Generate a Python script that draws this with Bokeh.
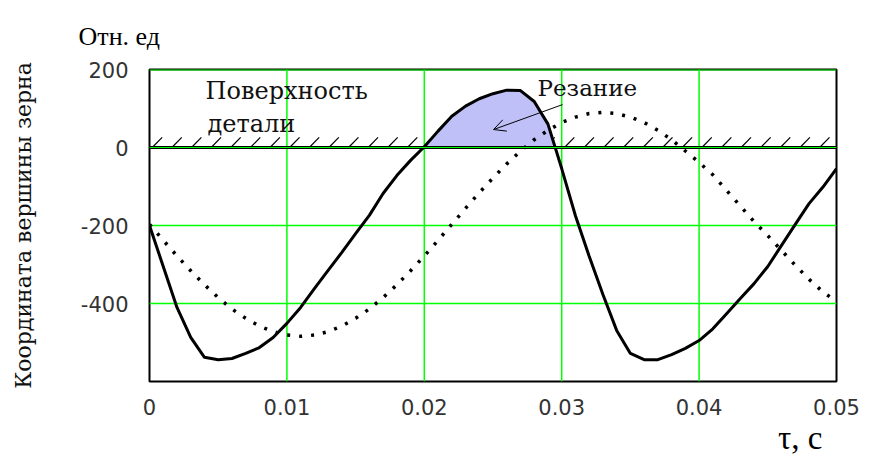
import numpy as np
from bokeh.plotting import figure
from bokeh.models import Label, Arrow, OpenHead, CustomJSTickFormatter, Span, Range1d, Title
from bokeh.embed import file_html
from bokeh.resources import INLINE

# ---- data ----
TAU = [round(i * 0.001, 3) for i in range(51)]
SOLID = [-200, -305, -410, -487, -538, -544, -541, -528, -513, -487,
         -451, -410, -362, -315, -269, -221, -174, -118, -72, -33,
         2, 42, 80, 106, 125, 138, 147, 146, 118, 60,
         -54, -175, -279, -377, -469, -528, -544, -544, -531, -515,
         -495, -465, -426, -387, -349, -305, -251, -197, -144, -102,
         -54]
DOTTED = [-197, -238, -278, -316, -352, -385, -414, -438, -458, -472,
          -481, -484, -481, -472, -458, -438, -414, -385, -352, -316,
          -278, -238, -197, -156, -116, -78, -42, -9, 20, 44,
          64, 78, 87, 90, 87, 78, 64, 44, 20, -9,
          -38, -70, -110, -150, -190, -226, -264, -302, -338, -370,
          -395]
X_TICKS = [0, 0.01, 0.02, 0.03, 0.04, 0.05]
X_TICK_LABELS = ["0", "0.01", "0.02", "0.03", "0.04", "0.05"]
Y_TICKS = [-400, -200, 0, 200]
Y_TICK_LABELS = ["-400", "-200", "0", "200"]

GREEN = "#00FF00"

p = figure(width=869, height=459, output_backend="svg", toolbar_location=None,
           x_range=Range1d(0, 0.05), y_range=Range1d(-600, 200),
           min_border_left=149, min_border_right=33, min_border_top=69, min_border_bottom=78)
p.background_fill_color = "white"
p.border_fill_color = "white"
p.outline_line_color = "black"
p.outline_line_width = 2

fmt_code = """
for (let i = 0; i < tv.length; i++) {
  if (Math.abs(tick - tv[i]) < 1e-9) return lb[i];
}
return '';
"""
p.xaxis.ticker = X_TICKS
p.yaxis.ticker = Y_TICKS
p.xaxis.formatter = CustomJSTickFormatter(args=dict(tv=X_TICKS, lb=X_TICK_LABELS), code=fmt_code)
p.yaxis.formatter = CustomJSTickFormatter(args=dict(tv=Y_TICKS, lb=Y_TICK_LABELS), code=fmt_code)
for ax in (p.xaxis, p.yaxis):
    ax.axis_line_color = None
    ax.major_tick_line_color = None
    ax.minor_tick_line_color = None
    ax.major_label_text_font = "DejaVu Sans"
    ax.major_label_text_font_size = "21px"
    ax.major_label_text_color = "#333333"
p.xaxis.major_label_standoff = 11
p.yaxis.major_label_standoff = 15

p.yaxis.axis_label = "Координата вершины зерна"
p.yaxis.axis_label_text_font = "DejaVu Serif"
p.yaxis.axis_label_text_font_size = "22px"
p.yaxis.axis_label_text_font_style = "normal"
p.yaxis.axis_label_text_color = "#111111"
p.yaxis.axis_label_standoff = 42

p.xgrid.grid_line_color = None
p.ygrid.grid_line_color = None
for v in X_TICKS[1:-1]:
    p.add_layout(Span(location=v, dimension="height", line_color=GREEN, line_width=1.5, level="underlay"))
for v in Y_TICKS[:2]:
    p.add_layout(Span(location=v, dimension="width", line_color=GREEN, line_width=1.5, level="underlay"))

# hatching of the part surface (decoration)
HATCH_STEP = 0.01 / 7
hx0 = np.arange(0.0002, 0.0499, HATCH_STEP)
hx1 = hx0 + 0.00072
p.segment(x0=hx0, y0=np.zeros_like(hx0), x1=hx1, y1=np.full_like(hx0, 26),
          line_color="black", line_width=1.2)

# shaded cutting region (positive part of solid curve)
t = np.array(TAU)
y = np.array(SOLID, dtype=float)
pos = np.where(y >= 0)[0]
i0, i1 = pos[0], pos[-1]
t_start = t[i0 - 1] + (t[i0] - t[i0 - 1]) * (0 - y[i0 - 1]) / (y[i0] - y[i0 - 1])
t_end = t[i1] + (t[i1 + 1] - t[i1]) * (0 - y[i1]) / (y[i1 + 1] - y[i1])
px = np.concatenate([[t_start], t[i0:i1 + 1], [t_end]])
py = np.concatenate([[0], y[i0:i1 + 1], [0]])
p.patch(px, py, fill_color="#C0C0F8", line_color=None)

# surface line and top grid line
p.add_layout(Span(location=0, dimension="width", line_color="black", line_width=3))
p.add_layout(Span(location=0, dimension="width", line_color=GREEN, line_width=1))
p.add_layout(Span(location=200, dimension="width", line_color=GREEN, line_width=2))

p.line(TAU, DOTTED, line_color="black", line_width=3.5, line_dash="3 9")
p.line(TAU, SOLID, line_color="black", line_width=3)

serif = "DejaVu Serif"
p.add_layout(Label(x=0.00408, y=108, text="Поверхность", text_font=serif,
                   text_font_size="24px", text_color="#111111"))
p.add_layout(Label(x=0.00422, y=24, text="детали", text_font=serif,
                   text_font_size="24px", text_color="#111111"))
p.add_layout(Label(x=0.02824, y=120, text="Резание", text_font=serif,
                   text_font_size="23px", text_color="#111111"))
p.add_layout(Arrow(end=OpenHead(size=12, line_width=1), x_start=0.03006, y_start=110,
                   x_end=0.02504, y_end=46, line_width=1, line_color="black"))

p.add_layout(Title(text="Отн. ед", align="left", offset=-71, standoff=38,
                   text_font="Liberation Serif", text_font_size="26px",
                   text_font_style="normal", text_color="black"), "above")
p.add_layout(Title(text="τ, c", align="right", offset=14, standoff=0,
                   text_font="Liberation Serif", text_font_size="33px",
                   text_font_style="normal", text_color="black"), "below")

open("out.html", "w").write(file_html(p, INLINE))
